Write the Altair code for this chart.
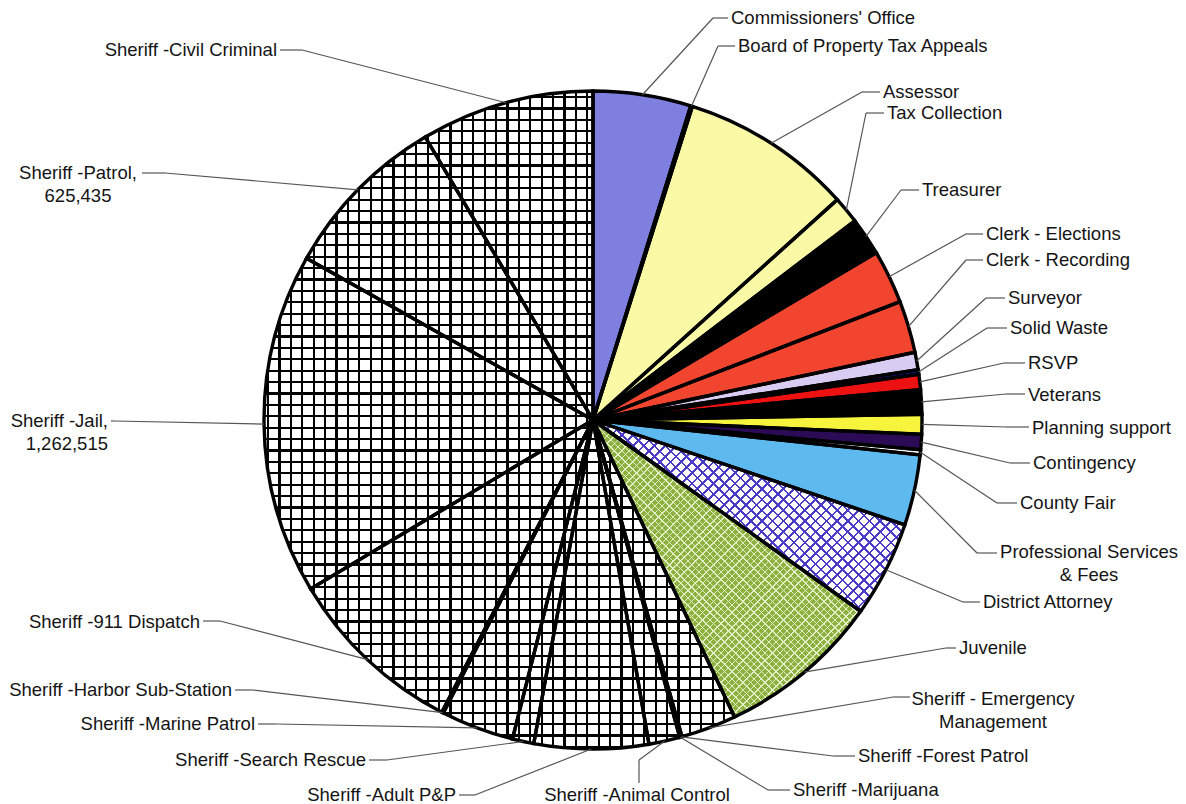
import math
import altair as alt
import pandas as pd

# ---------------- data ----------------
NAMES = [
    "Commissioners' Office", "Board of Property Tax Appeals", "Assessor", "Tax Collection",
    "Treasurer", "Clerk - Elections", "Clerk - Recording", "Surveyor", "Solid Waste", "RSVP",
    "Veterans", "Planning support", "Contingency", "County Fair",
    "Professional Services & Fees", "District Attorney", "Juvenile",
    "Sheriff - Emergency Management", "Sheriff -Forest Patrol", "Sheriff -Marijuana",
    "Sheriff -Animal Control", "Sheriff -Adult P&P", "Sheriff -Search Rescue",
    "Sheriff -Marine Patrol", "Sheriff -Harbor Sub-Station", "Sheriff -911 Dispatch",
    "Sheriff -Jail", "Sheriff -Patrol", "Sheriff -Civil Criminal",
]
VALUES = [
    361600, 6300, 635400, 100300,
    140000, 198600, 192300, 64800, 16700, 56400,
    89900, 73200, 56400, 18800,
    261300, 355300, 606100,
    204800, 4200, 4200,
    115000, 422200, 79400,
    269600, 6300, 664600,
    1262515, 625435, 641600,
]
SHOW_VALUE = ["Sheriff -Jail", "Sheriff -Patrol"]

# ---------------- styles ----------------
COLORS = [
    "#7F7FDF", "#FAFAA6", "#FAFAA6", "#FAFAA6",
    "#000000", "#F2452F", "#F2452F", "#D9CCF2", "#0B1BA8", "#EE1111",
    "#000000", "#F6F43C", "#2B0B55", "#FFFFFF",
    "#5DB9EE", "#FFFFFF", "#8DB13E",
    "#FFFFFF", "#FFFFFF", "#FFFFFF",
    "#FFFFFF", "#FFFFFF", "#FFFFFF",
    "#FFFFFF", "#FFFFFF", "#FFFFFF",
    "#FFFFFF", "#FFFFFF", "#FFFFFF",
]
PATTERN = ["grid" if n.startswith("Sheriff") else
           ("diag" if n == "District Attorney" else
            ("weave" if n == "Juvenile" else "solid")) for n in NAMES]

M = 8  # page margin
CX, CY, R = 593 - M, 420 - M, 329
FONT = "Liberation Sans"
FS = 18.5

# label layout (page coordinates): text, x, y, align, tail near text, tail outer end
LAYOUT = {
    "Commissioners' Office": (None, 731, 18, "left", (728, 18), (713, 18)),
    "Board of Property Tax Appeals": (None, 738, 46, "left", (735, 46), (718, 46)),
    "Assessor": (None, 883, 92, "left", (880, 92), (862, 92)),
    "Tax Collection": (None, 887, 113, "left", (884, 113), (866, 113)),
    "Treasurer": (None, 922, 190, "left", (919, 190), (901, 190)),
    "Clerk - Elections": (None, 986, 234, "left", (983, 234), (966, 234)),
    "Clerk - Recording": (None, 986, 260, "left", (983, 260), (966, 260)),
    "Surveyor": (None, 1008, 298, "left", (1005, 298), (986, 298)),
    "Solid Waste": (None, 1010, 328, "left", (1007, 328), (987, 328)),
    "RSVP": (None, 1028, 363, "left", (1025, 363), (1004, 363)),
    "Veterans": (None, 1028, 395, "left", (1025, 394), (1006, 394)),
    "Planning support": (None, 1032, 428, "left", (1029, 427), (1006, 427)),
    "Contingency": (None, 1033, 463, "left", (1030, 463), (1010, 463)),
    "County Fair": (None, 1020, 503, "left", (1017, 503), (997, 503)),
    "Professional Services & Fees": ("Professional Services\n& Fees", 1089, 552, "center", (997, 553), (977, 553)),
    "District Attorney": (None, 983, 602, "left", (980, 602), (963, 602)),
    "Juvenile": (None, 959, 648, "left", (956, 648), (946, 648)),
    "Sheriff - Emergency Management": ("Sheriff - Emergency\nManagement", 993, 699, "center", (910, 697), (893, 697)),
    "Sheriff -Forest Patrol": (None, 858, 756, "left", (855, 756), (833, 756)),
    "Sheriff -Marijuana": (None, 793, 790, "left", (790, 790), (768, 790)),
    "Sheriff -Animal Control": (None, 637, 795, "center", (639, 783), (639, 760)),
    "Sheriff -Adult P&P": (None, 456, 795, "right", (459, 795), (475, 795)),
    "Sheriff -Search Rescue": (None, 366, 760, "right", (369, 760), (387, 760)),
    "Sheriff -Marine Patrol": (None, 255, 724, "right", (258, 724), (276, 724)),
    "Sheriff -Harbor Sub-Station": (None, 232, 690, "right", (235, 690), (253, 690)),
    "Sheriff -911 Dispatch": (None, 200, 622, "right", (203, 621), (220, 621)),
    "Sheriff -Jail": (None, 108, 421, "right", (111, 421), (114, 421)),
    "Sheriff -Patrol": (None, 78, 173, "center", (142, 173), (165, 173)),
    "Sheriff -Civil Criminal": (None, 277, 50, "right", (280, 50), (302, 50)),
}

TOTAL = sum(VALUES)

rows = []
for i, (n, v, c, p) in enumerate(zip(NAMES, VALUES, COLORS, PATTERN)):
    txt, tx, ty, al, t0, t1 = LAYOUT[n]
    if txt is None:
        txt = n + (",\n" + f"{v:,}" if n in SHOW_VALUE else "")
    rows.append(dict(idx=i, name=n, value=v, pattern=p, text=txt,
                     tx=tx - M, ty=ty - M, align=al,
                     t0x=t0[0] - M, t0y=t0[1] - M, t1x=t1[0] - M, t1y=t1[1] - M))
df = pd.DataFrame(rows)


# ---------------- pattern fills (gradient stripes) ----------------
def stripes(period_t, width_t, color, x1, y1, x2, y2, phase=0.0):
    tr = "rgba(255,255,255,0)"
    stops = [alt.GradientStop(offset=0, color=tr)]
    t = phase
    while t < 1:
        a, b = max(t, 0.0), min(t + width_t, 1.0)
        if b > a:
            stops += [alt.GradientStop(offset=round(a, 5), color=tr),
                      alt.GradientStop(offset=round(a, 5), color=color),
                      alt.GradientStop(offset=round(b, 5), color=color),
                      alt.GradientStop(offset=round(b, 5), color=tr)]
        t += period_t
    stops.append(alt.GradientStop(offset=1, color=tr))
    return alt.LinearGradient(gradient="linear", stops=stops, x1=x1, y1=y1, x2=x2, y2=y2)


def sector_bbox(a0, a1):
    pts = [(0.0, 0.0), (R * math.sin(a0), -R * math.cos(a0)), (R * math.sin(a1), -R * math.cos(a1))]
    for k in range(5):
        c = k * math.pi / 2
        if a0 < c < a1:
            pts.append((R * math.sin(c), -R * math.cos(c)))
    xs = [p[0] for p in pts]
    ys = [p[1] for p in pts]
    return max(xs) - min(xs), max(ys) - min(ys)


def diag_pair(W, H, spacing, lw, color):
    k = (W + H) / (W * W + H * H)
    dt = spacing * math.sqrt(2) / (W + H)
    wt = lw * math.sqrt(2) / (W + H)
    g1 = stripes(dt, wt, color, 0, 0, k * W, k * H)
    g2 = stripes(dt, wt, color, 0, 1, k * W, 1 - k * H)
    return g1, g2


cum = [0]
for v in VALUES:
    cum.append(cum[-1] + v)


def angles(name):
    i = NAMES.index(name)
    return cum[i] / TOTAL * 2 * math.pi, cum[i + 1] / TOTAL * 2 * math.pi


# sheriff grid over full disc
D = 2 * R
grid_v = stripes(11.4 / D, 2.2 / D, "#000000", 0, 0, 1, 0, phase=3 / D)
grid_h = stripes(11.4 / D, 2.2 / D, "#000000", 0, 0, 0, 1, phase=5 / D)

da0, da1 = angles("District Attorney")
W_da, H_da = sector_bbox(da0, da1)
da_g1, da_g2 = diag_pair(W_da, H_da, 7.6, 1.8, "#4B3CC8")

ju0, ju1 = angles("Juvenile")
W_ju, H_ju = sector_bbox(ju0, ju1)
ju_g1, ju_g2 = diag_pair(W_ju, H_ju, 5.2, 1.0, "#E4EEC6")

# ---------------- chart ----------------
center = dict(x=alt.value(CX), y=alt.value(CY))
disc_df = pd.DataFrame({"k": [0]})


def disc(fill):
    return alt.Chart(disc_df).mark_arc(radius=R, theta=0, theta2=2 * math.pi, fill=fill).encode(**center)


base = alt.Chart(df).transform_window(
    v1="sum(value)", sort=[alt.SortField("idx", order="ascending")], frame=[None, 0]
).transform_calculate(v0="datum.v1 - datum.value")

theta_enc = dict(
    theta=alt.Theta("v0:Q", scale=alt.Scale(domain=[0, TOTAL], range=[0, 2 * math.pi])),
    theta2=alt.Theta2("v1:Q"),
)

slices = base.transform_filter("datum.pattern != 'grid'").mark_arc(radius=R).encode(
    fill=alt.Fill("name:N", scale=alt.Scale(domain=NAMES, range=COLORS), legend=None),
    **theta_enc, **center)

da_l1 = base.transform_filter("datum.pattern == 'diag'").mark_arc(radius=R, fill=da_g1).encode(**theta_enc, **center)
da_l2 = base.transform_filter("datum.pattern == 'diag'").mark_arc(radius=R, fill=da_g2).encode(**theta_enc, **center)
ju_l1 = base.transform_filter("datum.pattern == 'weave'").mark_arc(radius=R, fill=ju_g1).encode(**theta_enc, **center)
ju_l2 = base.transform_filter("datum.pattern == 'weave'").mark_arc(radius=R, fill=ju_g2).encode(**theta_enc, **center)

outlines = base.mark_arc(radius=R, fill="transparent", stroke="#000000", strokeWidth=3.4).encode(
    **theta_enc, **center)

lead = base.transform_calculate(
    ang=f"(datum.v0 + datum.v1) / 2 / {TOTAL} * 2 * PI"
).transform_calculate(
    ex=f"{CX} + {R} * sin(datum.ang)", ey=f"{CY} - {R} * cos(datum.ang)"
)

leader_diag = lead.mark_rule(color="#555555", strokeWidth=1.2).encode(
    x=alt.X("ex:Q", scale=None, axis=None), y=alt.Y("ey:Q", scale=None, axis=None),
    x2="t1x:Q", y2="t1y:Q")
leader_tail = lead.mark_rule(color="#555555", strokeWidth=1.2).encode(
    x=alt.X("t1x:Q", scale=None, axis=None), y=alt.Y("t1y:Q", scale=None, axis=None),
    x2="t0x:Q", y2="t0y:Q")


def labels(al):
    return base.transform_filter(f"datum.align == '{al}'").mark_text(
        align=al, baseline="middle", font=FONT, fontSize=FS, color="#141414",
        lineBreak="\n", lineHeight=23).encode(
        x=alt.X("tx:Q", scale=None, axis=None), y=alt.Y("ty:Q", scale=None, axis=None),
        text="text:N")


chart = alt.layer(
    disc("#FFFFFF"), disc(grid_v), disc(grid_h),
    slices, da_l1, da_l2, ju_l1, ju_l2, outlines,
    leader_diag, leader_tail,
    labels("left"), labels("right"), labels("center"),
).properties(
    width=1170, height=796, padding=0, autosize="none", background="#FFFFFF"
).configure_view(stroke=None)

chart.save("out.html", embed_options={"renderer": "svg", "actions": False})
